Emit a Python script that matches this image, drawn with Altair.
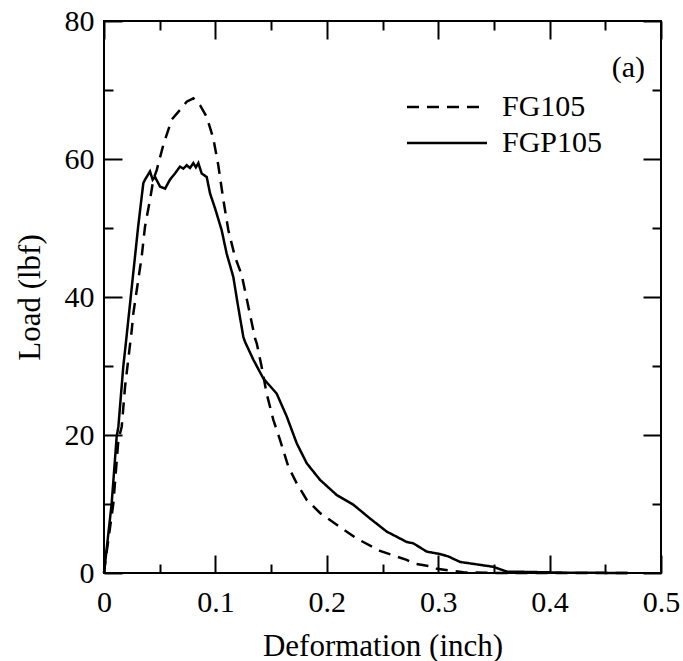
import altair as alt
import pandas as pd

# ---- data ----
series_names = ["FG105", "FGP105"]

fg_x = [0, 0.001, 0.0084, 0.0129, 0.0159, 0.0189, 0.0249, 0.0263, 0.0338, 0.0368,
        0.0413, 0.0443, 0.0473, 0.0532, 0.0607, 0.0682, 0.0742, 0.0802, 0.0862, 0.0922,
        0.0981, 0.1026, 0.1071, 0.1116, 0.1176, 0.1236, 0.1296, 0.1356, 0.1371, 0.1415,
        0.1460, 0.1520, 0.1580, 0.1655, 0.1730, 0.1820, 0.1939, 0.2089, 0.2268, 0.2478,
        0.2717, 0.2777, 0.2956, 0.2990, 0.3226, 0.35, 0.47]
fg_y = [0, 1.4, 10.1, 19.3, 21.2, 27.0, 35.2, 37.6, 45.8, 50.2,
        54.1, 57.0, 58.4, 62.0, 65.7, 67.1, 68.3, 68.8, 67.8, 66.1,
        63.0, 59.1, 54.1, 49.7, 45.8, 43.2, 38.6, 34.0, 33.3, 29.9,
        26.0, 22.2, 19.3, 15.4, 13.0, 10.6, 8.7, 7.0, 5.0, 3.2,
        1.9, 1.4, 0.9, 0.6, 0.1, 0.0, 0.0]

fgp_x = [0, 0.0069, 0.0114, 0.0129, 0.0173, 0.0204, 0.0308, 0.0353, 0.0368, 0.0413,
         0.0437, 0.0458, 0.0503, 0.0548, 0.0592, 0.0637, 0.0682, 0.0712, 0.0742, 0.0772,
         0.0802, 0.0825, 0.0847, 0.0877, 0.0922, 0.0952, 0.0996, 0.1056, 0.1101, 0.1161,
         0.1200, 0.1251, 0.1266, 0.1341, 0.1430, 0.1550, 0.1640, 0.1730, 0.1820, 0.1939,
         0.2089, 0.2238, 0.2388, 0.2538, 0.2717, 0.2777, 0.2897, 0.3016, 0.3091, 0.3196,
         0.3495, 0.3615, 0.3824, 0.4123, 0.47]
fgp_y = [0, 10.1, 19.8, 21.2, 29.9, 34.5, 50.4, 56.5, 57.0, 58.2,
         57.0, 57.4, 56.0, 55.7, 57.0, 57.9, 58.9, 58.6, 59.1, 58.7,
         59.4, 58.8, 59.4, 57.9, 57.4, 55.0, 52.9, 49.7, 46.3, 42.9,
         39.0, 34.2, 33.5, 30.9, 28.2, 26.0, 22.7, 18.8, 15.9, 13.5,
         11.3, 9.9, 7.9, 6.0, 4.5, 4.3, 3.1, 2.75, 2.4, 1.6,
         0.9, 0.2, 0.15, 0.05, 0.0]

x_major = [0, 0.1, 0.2, 0.3, 0.4, 0.5]
x_minor = [0.05, 0.15, 0.25, 0.35, 0.45]
y_major = [0, 20, 40, 60, 80]
y_minor = [10, 30, 50, 70]
panel_label = "(a)"

rows = []
for name, xs_, ys_ in [(series_names[0], fg_x, fg_y), (series_names[1], fgp_x, fgp_y)]:
    for i, (a, b) in enumerate(zip(xs_, ys_)):
        rows.append({"series": name, "def": a, "load": b, "i": i})
df = pd.DataFrame(rows)

W, H = 557, 552
FONT = "Times New Roman, Liberation Serif, Times, serif"

xsc = alt.Scale(domain=[0, 0.5], nice=False, zero=False)
ysc = alt.Scale(domain=[0, 80], nice=False, zero=False)

lines = alt.Chart(df).mark_line(color="black", strokeWidth=2.5).encode(
    x=alt.X("def:Q", scale=xsc, axis=alt.Axis(
        orient="bottom", values=x_major, format="~r", title="Deformation (inch)",
        ticks=False, tickSize=0, domain=False, grid=False, labelPadding=14, labelFlush=False,
        labelFont=FONT, labelFontSize=30, labelColor="black",
        titleFont=FONT, titleFontSize=31, titleFontWeight="normal", titleColor="black",
        titlePadding=14)),
    y=alt.Y("load:Q", scale=ysc, axis=alt.Axis(
        orient="left", values=y_major, format="~r", title="Load (lbf)",
        ticks=False, tickSize=0, domain=False, grid=False, labelPadding=10, labelFlush=False,
        labelFont=FONT, labelFontSize=30, labelColor="black",
        titleFont=FONT, titleFontSize=31, titleFontWeight="normal", titleColor="black",
        titlePadding=18)),
    strokeDash=alt.StrokeDash("series:N", scale=alt.Scale(domain=series_names, range=[[12, 8], [1, 0]]),
        legend=alt.Legend(orient="none", legendX=328, legendY=71, title=None, padding=0,
                          symbolType="M-4,0L4,0", symbolSize=400, symbolStrokeWidth=2.5,
                          symbolStrokeColor="black", symbolFillColor="transparent",
                          labelFont=FONT, labelFontSize=30,
                          labelColor="black", labelOffset=40, rowPadding=6)),
    order=alt.Order("i:Q"),
)


def tick_layer(ox, offx, xv, oy, offy, yv, size):
    return alt.Chart(df).mark_point(opacity=0).encode(
        x=alt.X("def:Q", scale=xsc, axis=alt.Axis(
            orient=ox, offset=offx, values=xv, tickSize=size, tickWidth=2, tickColor="black",
            labels=False, domain=False, grid=False, title=None)),
        y=alt.Y("load:Q", scale=ysc, axis=alt.Axis(
            orient=oy, offset=offy, values=yv, tickSize=size, tickWidth=2, tickColor="black",
            labels=False, domain=False, grid=False, title=None)),
    )

t1 = tick_layer("top", -H, x_major, "right", -W, y_major, 18)
t2 = tick_layer("top", -H, x_minor, "right", -W, y_minor, 9)
t3 = tick_layer("bottom", -H, x_major, "left", -W, y_major, 18)
t4 = tick_layer("bottom", -H, x_minor, "left", -W, y_minor, 9)

label = alt.Chart(pd.DataFrame({"t": [panel_label]})).mark_text(
    font=FONT, fontSize=30, align="right", baseline="middle", color="black"
).encode(text="t:N", x=alt.value(541), y=alt.value(47))

chart = alt.layer(lines, t1, t2, t3, t4, label).resolve_axis(
    x="independent", y="independent"
).properties(
    width=W, height=H,
    autosize=alt.AutoSizeParams(type="none"),
    padding={"left": 104, "top": 21, "right": 22, "bottom": 88},
    background="white",
).configure_view(stroke="black", strokeWidth=2)

chart.save("out.html", embed_options={"renderer": "svg", "actions": False})
